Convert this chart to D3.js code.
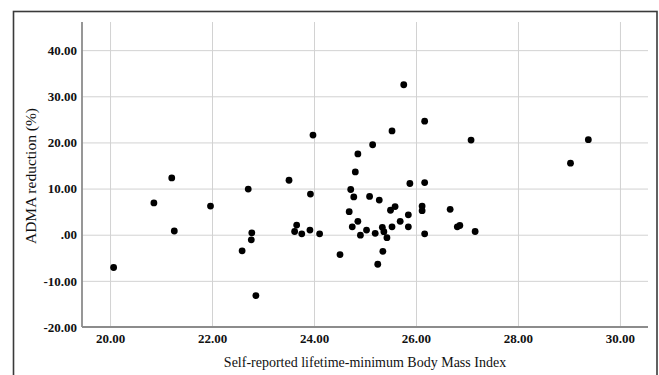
<!DOCTYPE html>
<html>
<head>
<meta charset="utf-8">
<script src="https://cdn.jsdelivr.net/npm/d3@7"></script>
<style>
	body { margin: 0; background: #fff; }
	svg { display: block; }
	.grid line { stroke: #d2d2d2; stroke-width: 1; }
	.grid path { display: none; }
	.ticks path, .ticks line { display: none; }
	.title { font-family: "Liberation Serif", "Times New Roman", serif; font-size: 14px; fill: #111; }
</style>
</head>
<body>
<div id="chart"></div>
<script>
	// BMI (x) vs ADMA reduction % (y)
	var bmi = [20.07, 20.86, 21.21, 21.26, 21.97, 22.59, 22.71, 22.78, 22.77, 22.86,
		23.51, 23.62, 23.66, 23.76, 23.92, 23.93, 23.98, 24.11, 24.51, 24.69,
		24.72, 24.75, 24.78, 24.81, 24.86, 24.86, 24.91, 25.03, 25.09, 25.15,
		25.20, 25.25, 25.28, 25.34, 25.35, 25.37, 25.43, 25.50, 25.53, 25.53,
		25.59, 25.69, 25.76, 25.85, 25.85, 25.88, 26.12, 26.12, 26.17, 26.17,
		26.17, 26.67, 26.81, 26.86, 27.08, 27.16, 29.03, 29.38];
	var adma = [-7.1, 6.9, 12.3, 0.8, 6.2, -3.5, 9.9, 0.4, -1.1, -13.2,
		11.8, 0.7, 2.1, 0.2, 1.0, 8.8, 21.6, 0.2, -4.3, 5.0,
		9.8, 1.7, 8.2, 13.6, 17.5, 2.9, -0.1, 1.0, 8.3, 19.5,
		0.3, -6.4, 7.5, 1.6, -3.6, 0.65, -0.65, 5.3, 1.7, 22.5,
		6.1, 2.9, 32.5, 4.3, 1.7, 11.1, 6.2, 5.2, 11.3, 24.6,
		0.2, 5.5, 1.7, 2.0, 20.5, 0.7, 15.5, 20.6];
	var xTicks = [20, 22, 24, 26, 28, 30];
	var yTicks = [-20, -10, 0, 10, 20, 30, 40];
	var xTitle = "Self-reported lifetime-minimum Body Mass Index";
	var yTitle = "ADMA reduction (%)";

	var width = 659, height = 375;
	var plot = { left: 82, right: 648, top: 22, bottom: 327 };

	var svg = d3.select("#chart").append("svg")
		.attr("width", width)
		.attr("height", height);

	// outer frame
	svg.append("rect")
		.attr("x", 13.5).attr("y", 11.5)
		.attr("width", 643.5).attr("height", 380)
		.attr("fill", "none")
		.attr("stroke", "#3a3a3a")
		.attr("stroke-width", 1.6);

	var x = d3.scaleLinear().domain([19.45, 30.55]).range([plot.left, plot.right]);
	var y = d3.scaleLinear().domain([-20, 46.1]).range([plot.bottom, plot.top]);

	function fmt(v) {
		var s = v.toFixed(2);
		if (s === "0.00") s = ".00";
		return s;
	}

	// grid
	svg.append("g")
		.attr("class", "grid")
		.attr("transform", "translate(0," + plot.bottom + ")")
		.call(d3.axisBottom(x).tickValues(xTicks).tickSize(-(plot.bottom - plot.top)).tickFormat(""));

	svg.append("g")
		.attr("class", "grid")
		.attr("transform", "translate(" + plot.left + ",0)")
		.call(d3.axisLeft(y).tickValues(yTicks.filter(function(d) { return d > -20; }))
			.tickSize(-(plot.right - plot.left)).tickFormat(""));

	// axis lines
	svg.append("line")
		.attr("x1", plot.left).attr("x2", plot.right)
		.attr("y1", plot.bottom).attr("y2", plot.bottom)
		.attr("stroke", "#8c8c8c").attr("stroke-width", 1.8);
	svg.append("line")
		.attr("x1", plot.left).attr("x2", plot.left)
		.attr("y1", plot.top).attr("y2", plot.bottom)
		.attr("stroke", "#8c8c8c").attr("stroke-width", 1.8);

	// tick labels
	var xAxis = svg.append("g")
		.attr("class", "ticks")
		.attr("transform", "translate(0," + plot.bottom + ")")
		.call(d3.axisBottom(x).tickValues(xTicks).tickSize(0).tickPadding(7).tickFormat(fmt));

	var yAxis = svg.append("g")
		.attr("class", "ticks")
		.attr("transform", "translate(" + plot.left + ",0)")
		.call(d3.axisLeft(y).tickValues(yTicks).tickSize(0).tickPadding(5).tickFormat(fmt));

	[xAxis, yAxis].forEach(function(g) {
		g.attr("font-family", null).attr("font-size", null);
		g.selectAll("text")
			.style("font-family", "'Liberation Serif', 'Times New Roman', serif")
			.style("font-weight", "bold")
			.style("font-size", "13px")
			.style("fill", "#111");
	});

	// points
	svg.append("g")
		.selectAll("circle")
		.data(bmi)
		.enter().append("circle")
		.attr("cx", function(d) { return x(d); })
		.attr("cy", function(d, i) { return y(adma[i]); })
		.attr("r", 3.4)
		.attr("fill", "#000");

	// titles
	svg.append("text")
		.attr("class", "title")
		.attr("x", (plot.left + plot.right) / 2)
		.attr("y", 367)
		.attr("text-anchor", "middle")
		.text(xTitle);

	svg.append("text")
		.attr("class", "title")
		.attr("transform", "translate(36," + 176 + ") rotate(-90)")
		.attr("text-anchor", "middle")
		.style("font-size", "15.5px")
		.text(yTitle);
</script>
</body>
</html>
